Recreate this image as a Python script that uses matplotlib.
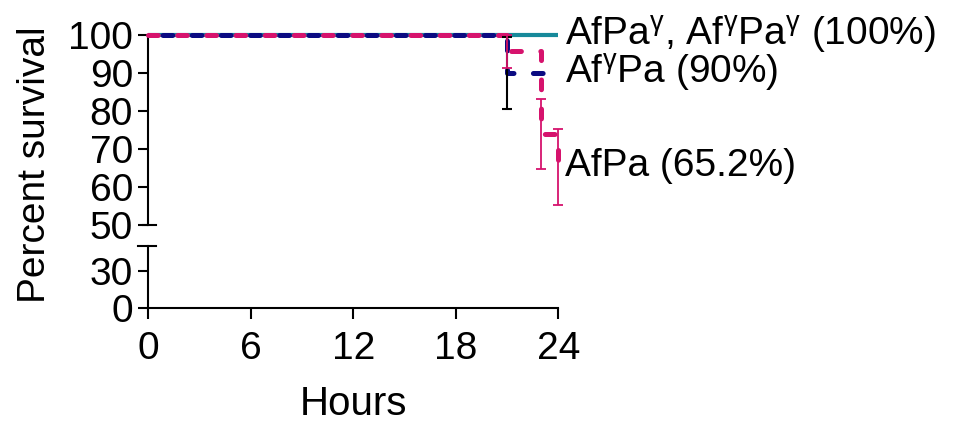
import matplotlib
matplotlib.use('Agg')
import matplotlib.pyplot as plt
from matplotlib.lines import Line2D

plt.rcParams['font.family'] = ['Liberation Sans', 'DejaVu Sans']
plt.rcParams['mathtext.fontset'] = 'custom'
plt.rcParams['mathtext.rm'] = 'Liberation Sans'
plt.rcParams['mathtext.it'] = 'Liberation Sans'
plt.rcParams['lines.scale_dashes'] = False

# Datos de supervivencia (Kaplan-Meier)
t_gamma = [0, 24]
s_gamma = [100, 100]

t_afg_pa = [0, 21, 24]
s_afg_pa = [100, 90, 90]
err_t_afg_pa = [21]
err_s_afg_pa = [90]
err_se_afg_pa = [9.5]

t_afpa = [0, 21, 23, 24]
s_afpa = [100, 95.7, 73.9, 65.2]
err_t_afpa = [21, 23, 24]
err_s_afpa = [95.7, 73.9, 65.2]
err_se_afpa = [4.3, 9.2, 9.9]

labels = [r'AfPa$^{\gamma}$, Af$^{\gamma}$Pa$^{\gamma}$ (100%)',
          r'Af$^{\gamma}$Pa (90%)',
          'AfPa (65.2%)']
label_y = [100, 90, 65.5]

teal = '#17899a'
navy = '#0b0b82'
magenta = '#d6136d'
FS = 28

W, H = 955, 423
fig = plt.figure(figsize=(W / 100, H / 100), dpi=100)

x0, x1 = 148.3, 558.5
ax_top = fig.add_axes([x0 / W, 1 - 224.7 / H, (x1 - x0) / W, (224.7 - 35) / H])
ax_bot = fig.add_axes([x0 / W, 1 - 308.3 / H, (x1 - x0) / W, (308.3 - 245.6) / H])

ax = ax_top
ax.plot(t_gamma, s_gamma, color=teal, lw=3.0, solid_capstyle='butt', clip_on=False, zorder=3)
ax.plot(t_afg_pa, s_afg_pa, drawstyle='steps-post', color=navy, lw=3.6,
        linestyle=(10.5, (7, 14)), dash_capstyle='round', clip_on=False, zorder=4)
ax.plot(t_afpa, s_afpa, drawstyle='steps-post', color=magenta, lw=3.6,
        linestyle=(0, (7, 14)), dash_capstyle='round', clip_on=False, zorder=5)
ax.errorbar(err_t_afg_pa, err_s_afg_pa, yerr=err_se_afg_pa, fmt='none', ecolor='black',
            elinewidth=1.5, capsize=3.6, capthick=1.5, clip_on=False, zorder=6)
ax.errorbar(err_t_afpa, err_s_afpa, yerr=err_se_afpa, fmt='none', ecolor=magenta,
            elinewidth=1.3, capsize=3.6, capthick=1.3, clip_on=False, zorder=6)

for ax in (ax_top, ax_bot):
    ax.set_xlim(0, 24)
    for s in ('top', 'right'):
        ax.spines[s].set_visible(False)
    for s in ('left', 'bottom'):
        ax.spines[s].set_linewidth(1.5)
    ax.tick_params(axis='y', width=1.5, length=7.5, labelsize=FS, pad=3.5)
    ax.tick_params(axis='x', width=1.5, length=8, labelsize=FS, pad=8.5)

ax_top.set_ylim(50, 100)
ax_top.set_yticks([50, 60, 70, 80, 90, 100])
ax_top.spines['bottom'].set_visible(False)
ax_top.set_xticks([])

ax_bot.set_ylim(0, 50)
ax_bot.set_yticks([0, 30])
ax_bot.set_xticks([0, 6, 12, 18, 24])
ax_bot.set_xlabel('Hours', fontsize=29, labelpad=13)

# Marcas del corte del eje
fig.add_artist(Line2D([142.7 / W, 156 / W], [1 - 224.7 / H] * 2, color='black', lw=1.5))
fig.add_artist(Line2D([138.3 / W, 156 / W], [1 - 245.6 / H] * 2, color='black', lw=1.5))

fig.text(35 / W, 1 - 165 / H, 'Percent survival', rotation=90, fontsize=FS,
         ha='center', va='center')

for lab, yv in zip(labels, label_y):
    ax_top.text(24.4, yv, lab, fontsize=FS, ha='left', va='center', clip_on=False)

fig.savefig('out.png', dpi=100)
